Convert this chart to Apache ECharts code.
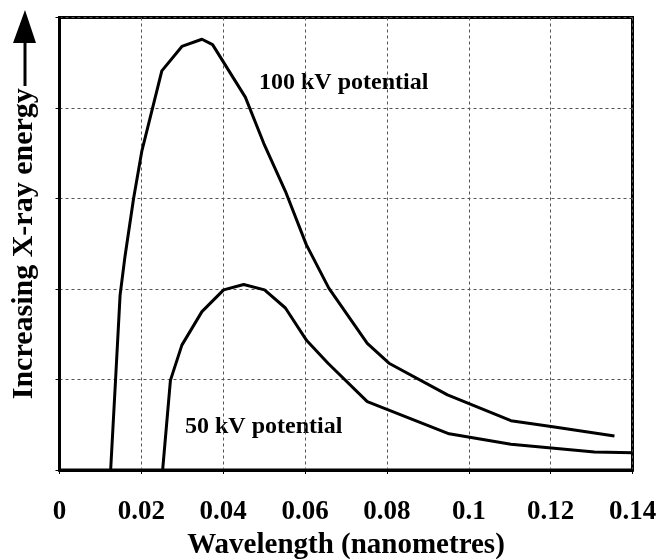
<!DOCTYPE html>
<html>
<head>
<meta charset="utf-8">
<script src="https://cdn.jsdelivr.net/npm/echarts@6/dist/echarts.min.js"></script>
<style>
html,body{margin:0;padding:0;background:#fff;}
#chart{width:659px;height:560px;}
</style>
</head>
<body>
<div id="chart"></div>
<script>
// Wavelength (nm) and relative intensity for 100 kV potential
var wave100 = [0.0125, 0.0137, 0.0148, 0.0160, 0.0181, 0.0201, 0.0250, 0.0299, 0.0348, 0.0374, 0.0454, 0.0499, 0.0552, 0.0603, 0.0658, 0.0752, 0.0805, 0.0948, 0.1103, 0.1201, 0.1356];
var energy100 = [0, 1.00, 1.93, 2.36, 3.00, 3.52, 4.41, 4.68, 4.76, 4.70, 4.12, 3.61, 3.08, 2.49, 2.01, 1.40, 1.18, 0.83, 0.545, 0.48, 0.376];
// Wavelength (nm) and relative intensity for 50 kV potential
var wave50 = [0.0252, 0.0271, 0.0299, 0.0348, 0.0401, 0.0450, 0.0501, 0.0552, 0.0604, 0.0656, 0.0752, 0.0952, 0.1103, 0.1307, 0.1400];
var energy50 = [0, 0.99, 1.38, 1.75, 1.99, 2.05, 1.99, 1.79, 1.43, 1.18, 0.755, 0.40, 0.284, 0.20, 0.19];

var xTitle = 'Wavelength (nanometres)';
var yTitle = 'Increasing X-ray energy';
var label100 = '100 kV potential';
var label50 = '50 kV potential';

function pairs(xs, ys) { return xs.map(function (x, i) { return [x, ys[i]]; }); }

var FONT = '"Liberation Serif", "Times New Roman", serif';
var chart = echarts.init(document.getElementById('chart'));
chart.setOption({
  animation: false,
  backgroundColor: '#fff',
  grid: { left: 59.5, right: 26.5, top: 17.5, bottom: 90, show: true, borderColor: '#000', borderWidth: 3,
    containLabel: false, outerBoundsMode: 'none' },
  xAxis: {
    type: 'value', min: 0, max: 0.14, interval: 0.02,
    name: xTitle, nameLocation: 'middle', nameGap: 59,
    nameTextStyle: { fontFamily: FONT, fontWeight: 'bold', fontSize: 29, color: '#000' },
    axisLine: { show: true, onZero: false, lineStyle: { color: '#000', width: 3 } },
    axisTick: { show: true, length: 4, lineStyle: { color: '#000', width: 1 } },
    axisLabel: { margin: 29, fontFamily: FONT, fontWeight: 'bold', fontSize: 27, color: '#000',
      formatter: function (v) { return String(parseFloat(v.toFixed(2))); } },
    splitLine: { show: true, lineStyle: { color: '#555', width: 1, type: [3, 3] } }
  },
  yAxis: {
    type: 'value', min: 0, max: 5, interval: 1,
    name: yTitle, nameLocation: 'middle', nameGap: 20, nameRotate: 90,
    nameTextStyle: { fontFamily: FONT, fontWeight: 'bold', fontSize: 30, color: '#000' },
    axisLine: { show: true, lineStyle: { color: '#000', width: 3 } },
    axisTick: { show: true, length: 4, lineStyle: { color: '#000', width: 1 } },
    axisLabel: { show: false },
    splitLine: { show: true, lineStyle: { color: '#555', width: 1, type: [3, 3] } }
  },
  series: [
    { type: 'line', name: label100, data: pairs(wave100, energy100), showSymbol: false, symbol: 'none',
      lineStyle: { color: '#000', width: 3 } },
    { type: 'line', name: label50, data: pairs(wave50, energy50), showSymbol: false, symbol: 'none',
      lineStyle: { color: '#000', width: 3 } }
  ],
  graphic: [
    { type: 'text', left: 259, top: 71, style: { text: label100, font: 'bold 24px ' + FONT, fill: '#000' } },
    { type: 'text', left: 185, top: 415, style: { text: label50, font: 'bold 24px ' + FONT, fill: '#000' } },
    { type: 'polygon', shape: { points: [[25, 10], [13, 43], [36, 43]] }, style: { fill: '#000' } },
    { type: 'line', shape: { x1: 25, y1: 42, x2: 25, y2: 86 }, style: { stroke: '#000', lineWidth: 3 } }
  ]
});
</script>
</body>
</html>
